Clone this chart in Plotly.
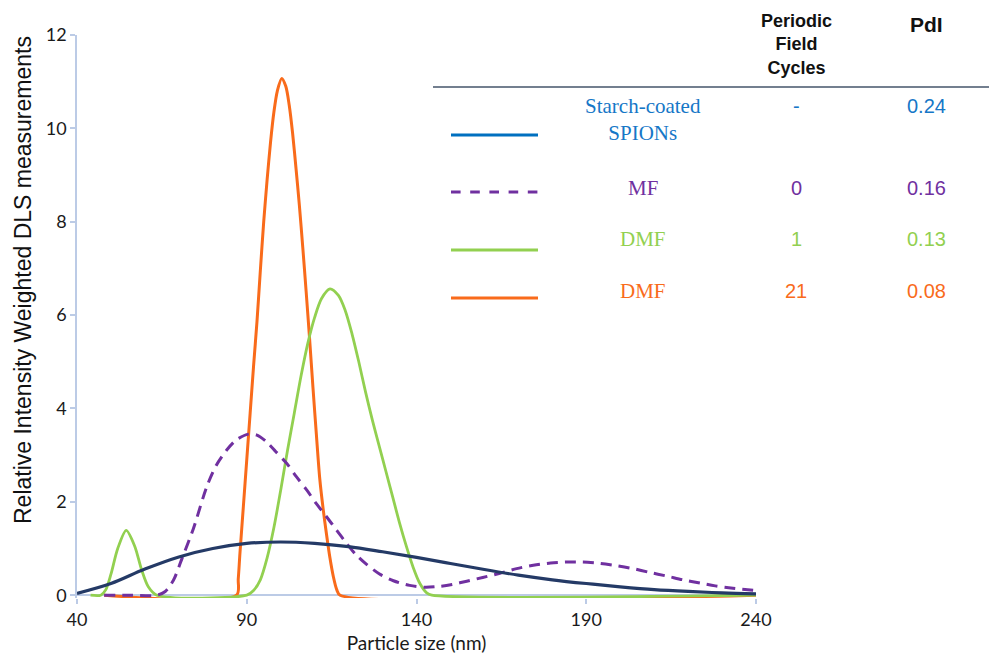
import plotly.graph_objects as go

# ---- measured size distributions (particle size in nm, relative intensity) ----
starch_x = [40, 50, 60, 70, 80, 90, 100, 110, 120, 130, 140, 150, 160, 170,
            180, 190, 200, 210, 220, 230, 240]
starch_y = [0.04, 0.25, 0.56, 0.82, 1.00, 1.11, 1.14, 1.11, 1.04, 0.93, 0.81,
            0.68, 0.55, 0.43, 0.33, 0.25, 0.18, 0.12, 0.08, 0.05, 0.03]

mf_x = [48, 56, 63.5, 66, 68.4, 71, 74.3, 78.2, 81, 84.1, 87, 90.5, 93, 95.9,
        98.5, 101.8, 104.5, 107.7, 110.5, 113.5, 116.5, 119.4, 122, 125.3, 129,
        133.2, 138, 142.5, 147, 150.5, 154.8, 159.5, 164.6, 169.5, 174.4, 179.5,
        184.2, 189, 194.1, 199, 203.8, 208.5, 213.7, 218.5, 223.5, 228, 233.2, 240]
mf_y = [0.0, 0.0, 0.0, 0.08, 0.32, 0.80, 1.43, 2.32, 2.78, 3.11, 3.33, 3.45,
        3.43, 3.28, 3.08, 2.82, 2.55, 2.25, 1.96, 1.68, 1.39, 1.11, 0.88, 0.66,
        0.46, 0.31, 0.21, 0.17, 0.19, 0.23, 0.30, 0.38, 0.47, 0.57, 0.64, 0.69,
        0.71, 0.71, 0.68, 0.63, 0.57, 0.49, 0.41, 0.33, 0.26, 0.20, 0.15, 0.10]

dmf1_x = [44, 47, 48.5, 50, 52, 54.5, 57, 59, 61, 63.5, 90, 92, 94, 96, 98,
          100, 102, 104, 106, 108, 110, 112, 114.5, 117, 119, 121, 123, 125,
          127, 129, 131, 133, 135, 137, 139, 141, 143, 144.5, 240]
dmf1_y = [0.0, 0.0, 0.12, 0.45, 1.0, 1.39, 1.05, 0.55, 0.18, 0.0, 0.0, 0.1,
          0.33, 0.8, 1.45, 2.25, 3.1, 3.9, 4.7, 5.4, 5.95, 6.35, 6.56, 6.42,
          6.1, 5.6, 5.0, 4.35, 3.75, 3.2, 2.65, 2.1, 1.55, 1.05, 0.6, 0.25,
          0.05, 0.0, 0.0]

dmf21_x = [48, 87, 87.5, 88, 89, 90, 91, 92, 93, 94, 95, 96, 97, 98, 99, 100.3,
           101.5, 102.5, 103.5, 104.5, 105.5, 106.5, 107.5, 108.5, 109.5, 110.5,
           111.5, 112.5, 113.5, 114.5, 115.5, 116.5, 117.5, 240]
dmf21_y = [0.0, 0.0, 0.35, 0.9, 1.9, 2.9, 3.9, 4.9, 5.85, 6.95, 8.0, 8.9, 9.7,
           10.35, 10.8, 11.07, 10.9, 10.5, 9.9, 9.15, 8.35, 7.45, 6.5, 5.5, 4.45,
           3.45, 2.5, 1.85, 1.3, 0.8, 0.4, 0.12, 0.0, 0.0]

# ---- table beside the chart ----
sample_names = ["Starch-coated<br>SPIONs", "MF", "DMF", "DMF"]
field_cycles = ["-", "0", "1", "21"]
pdi_values = ["0.24", "0.16", "0.13", "0.08"]
header_cycles = "Periodic<br>Field<br>Cycles"
header_pdi = "PdI"

x_ticks = [40, 90, 140, 190, 240]
y_ticks = [0, 2, 4, 6, 8, 10, 12]

NAVY = "#243A66"
PURPLE = "#7030A0"
GREEN = "#92D050"
ORANGE = "#F96B1B"
SWATCH = ["#0070C0", PURPLE, GREEN, ORANGE]
TEXT_COL = ["#1677C7", PURPLE, GREEN, ORANGE]
AXIS_COL = "#BCCBE6"

W, H = 989, 662
L, R, T, B = 77, 233, 35, 64
plot_w = W - L - R
plot_h = H - T - B


def px(xp):
    return (xp - L) / plot_w


def py(yp):
    return (H - B - yp) / plot_h


fig = go.Figure()

fig.add_trace(go.Scatter(x=dmf21_x, y=dmf21_y, mode="lines",
                         line=dict(color=ORANGE, width=3, shape="spline", smoothing=0.8),
                         showlegend=False, hoverinfo="skip"))
fig.add_trace(go.Scatter(x=dmf1_x, y=dmf1_y, mode="lines",
                         line=dict(color=GREEN, width=2.8, shape="spline", smoothing=0.8),
                         showlegend=False, hoverinfo="skip"))
fig.add_trace(go.Scatter(x=mf_x, y=mf_y, mode="lines",
                         line=dict(color=PURPLE, width=3, dash="11px,7px",
                                   shape="spline", smoothing=0.8),
                         showlegend=False, hoverinfo="skip"))
fig.add_trace(go.Scatter(x=starch_x, y=starch_y, mode="lines",
                         line=dict(color=NAVY, width=3.2, shape="spline", smoothing=1),
                         showlegend=False, hoverinfo="skip"))

annotations = []
shapes = []

# table header
annotations.append(dict(text="<b>" + header_cycles + "</b>", x=px(796), y=py(45),
                        font=dict(family="Liberation Sans, Arial", size=18, color="#111111")))
annotations.append(dict(text="<b>" + header_pdi + "</b>", x=px(926), y=py(25),
                        font=dict(family="Liberation Sans, Arial", size=21, color="#111111")))
shapes.append(dict(type="line", xref="paper", yref="paper",
                   x0=px(433), x1=px(989), y0=py(87), y1=py(87),
                   line=dict(color="#44546A", width=1.5)))

label_y = [119, 188, 239, 291]
number_y = [106, 188, 239, 291]
swatch_y = [135, 192, 250, 298]
for i in range(4):
    shapes.append(dict(type="line", xref="paper", yref="paper",
                       x0=px(451), x1=px(538), y0=py(swatch_y[i]), y1=py(swatch_y[i]),
                       line=dict(color=SWATCH[i], width=3.2,
                                 dash="dash" if i == 1 else "solid")))
    annotations.append(dict(text=sample_names[i], x=px(643), y=py(label_y[i]),
                            font=dict(family="Liberation Serif, Times New Roman",
                                      size=21, color=TEXT_COL[i])))
    annotations.append(dict(text=field_cycles[i], x=px(796), y=py(number_y[i]),
                            font=dict(family="Liberation Sans, Arial", size=20,
                                      color=TEXT_COL[i])))
    annotations.append(dict(text=pdi_values[i], x=px(926), y=py(number_y[i]),
                            font=dict(family="Liberation Sans, Arial", size=20,
                                      color=TEXT_COL[i])))

# rotated y-axis title
annotations.append(dict(text="Relative Intensity Weighted DLS measurements",
                        x=px(23), y=py(280), textangle=-90,
                        font=dict(family="Liberation Sans, Arial", size=23, color="#111111")))

for a in annotations:
    a.update(xref="paper", yref="paper", xanchor="center", yanchor="middle",
             showarrow=False)

fig.update_layout(
    width=W, height=H,
    margin=dict(l=L, r=R, t=T, b=B, pad=0),
    plot_bgcolor="white", paper_bgcolor="white",
    annotations=annotations, shapes=shapes,
    xaxis=dict(range=[40, 240], tickvals=x_ticks, ticktext=[str(v) for v in x_ticks],
               showgrid=False, showline=False, zeroline=False,
               ticks="outside", ticklen=5, tickcolor=AXIS_COL, tickwidth=1.5,
               tickfont=dict(family="Lato", size=18, color="#1a1a1a"),
               title=dict(text="Particle size (nm)", standoff=8,
                          font=dict(family="Lato", size=19, color="#1a1a1a"))),
    yaxis=dict(range=[-0.06, 12], tickvals=y_ticks, ticktext=[str(v) for v in y_ticks],
               showgrid=False, showline=True, linecolor=AXIS_COL, linewidth=1.5,
               zeroline=True, zerolinecolor=AXIS_COL, zerolinewidth=1.5,
               ticks="outside", ticklen=5, tickcolor=AXIS_COL, tickwidth=1.5,
               tickfont=dict(family="Lato", size=18, color="#1a1a1a")),
)

fig.write_html("out.html")
